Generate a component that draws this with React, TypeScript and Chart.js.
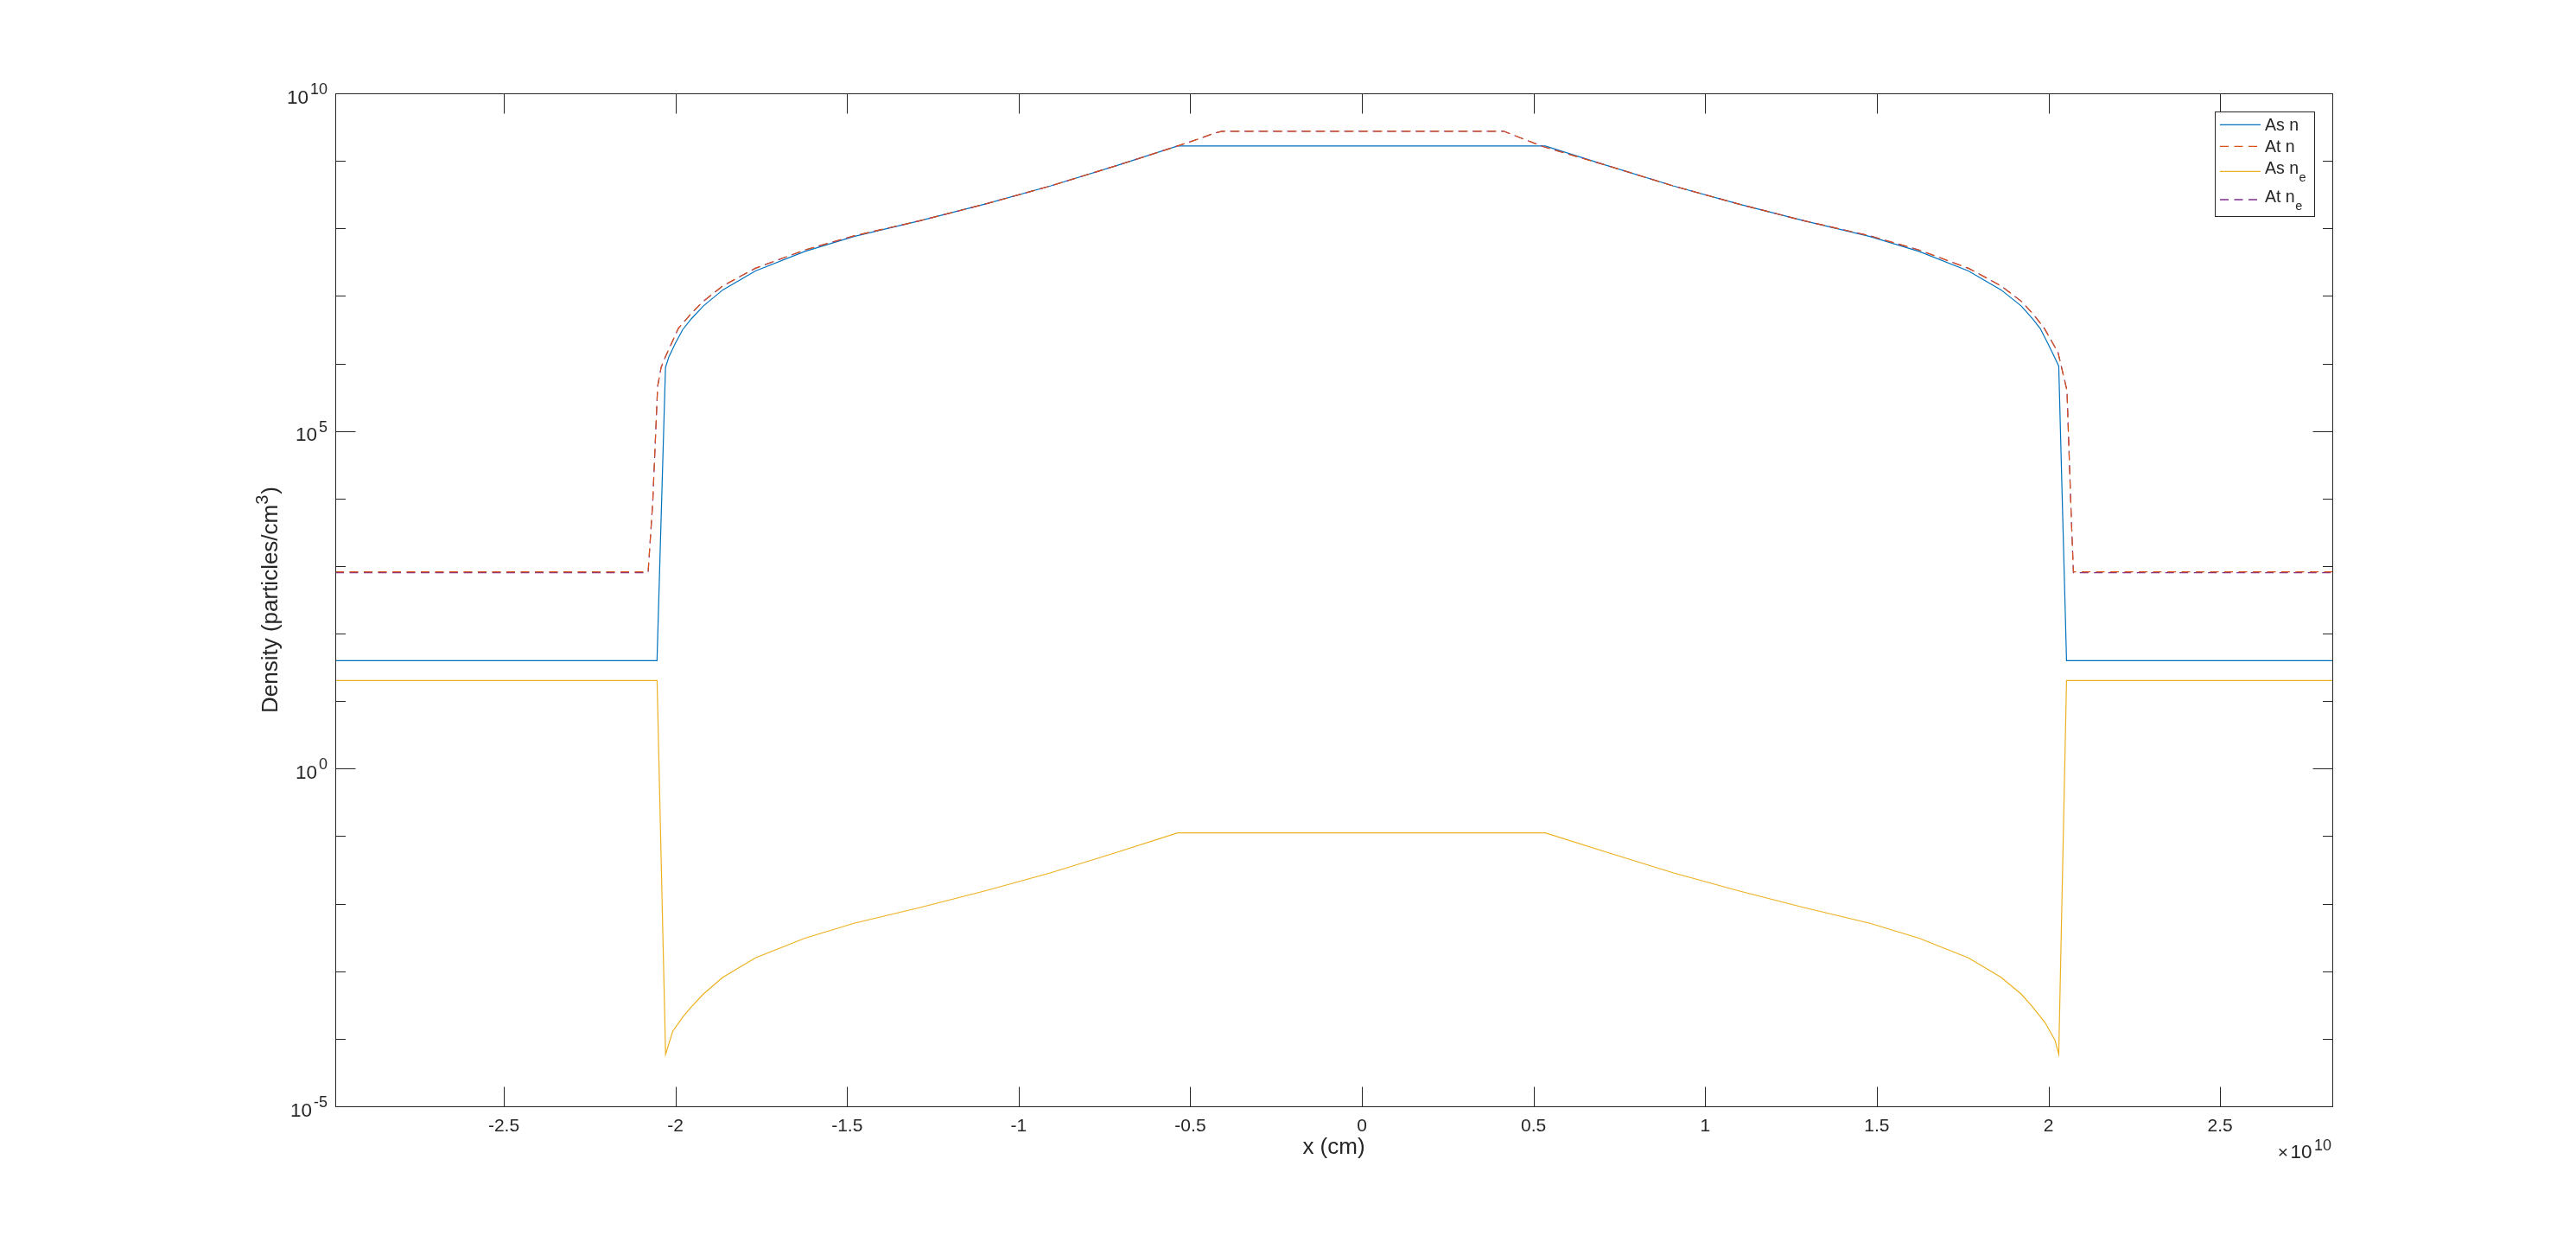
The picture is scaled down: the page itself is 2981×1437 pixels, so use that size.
import React, { useEffect, useRef } from "react";
import { Chart, registerables } from "chart.js";

Chart.register(...registerables);

// ---------- data (x in units of 1e10 cm, densities in particles/cm^3) ----------
const X_SCALE = 1e10;
const X_MIN = -2.991;
const X_MAX = 2.827;

const asNX = [
  -2.991, -2.0537, -2.029, -2.019, -2.0, -1.979, -1.954, -1.919, -1.862, -1.767, -1.623, -1.48, -1.29,
  -1.098, -0.906, -0.715, -0.537, 0.534, 0.715, 0.906, 1.098, 1.29, 1.48, 1.623, 1.767, 1.862, 1.921,
  1.954, 1.976, 2.0, 2.019, 2.03, 2.0527, 2.827,
];
const asNY = [
  39.8, 39.8, 8.71e5, 1.26e6, 2.0e6, 3.16e6, 4.57e6, 7.08e6, 1.23e7, 2.34e7, 4.57e7, 7.59e7, 1.29e8,
  2.29e8, 4.27e8, 8.51e8, 1.66e9, 1.66e9, 8.51e8, 4.27e8, 2.29e8, 1.29e8, 7.59e7, 4.57e7, 2.34e7, 1.23e7,
  7.08e6, 4.57e6, 3.3e6, 1.9e6, 1.2e6, 9.1e5, 39.8, 39.8,
];

const atNX = [
  -2.991, -2.0796, -2.066, -2.0519, -2.0418, -2.0292, -1.9914, -1.954, -1.919, -1.862, -1.767, -1.623,
  -1.48, -1.29, -1.098, -0.906, -0.715, -0.537, -0.473, -0.43, -0.408, 0.413, 0.457, 0.529, 0.715, 0.906,
  1.098, 1.29, 1.48, 1.623, 1.767, 1.862, 1.921, 1.954, 1.988, 2.028, 2.042, 2.054, 2.066, 2.0728, 2.827,
];
const atNY = [
  822, 822, 9.12e3, 4.57e5, 8.71e5, 1.26e6, 3.31e6, 5.5e6, 8.32e6, 1.41e7, 2.57e7, 4.79e7,
  7.76e7, 1.29e8, 2.29e8, 4.27e8, 8.51e8, 1.66e9, 2.14e9, 2.57e9, 2.75e9, 2.75e9, 2.24e9, 1.62e9, 8.51e8, 4.27e8,
  2.29e8, 1.29e8, 7.76e7, 4.79e7, 2.57e7, 1.41e7, 8.32e6, 5.5e6, 3.31e6, 1.45e6, 7.24e5, 3.98e5, 6.17e3, 822, 822,
];

const asNeX = [
  -2.991, -2.0535, -2.0287, -2.008, -1.979, -1.954, -1.919, -1.862, -1.767, -1.623, -1.48, -1.29, -1.098,
  -0.906, -0.715, -0.537, 0.534, 0.715, 0.906, 1.098, 1.29, 1.48, 1.623, 1.767, 1.862, 1.921, 1.954, 1.99,
  2.019, 2.03, 2.0527, 2.827,
];
const asNeY = [
  20.2, 20.2, 5.89e-5, 1.29e-4, 2.09e-4, 2.95e-4, 4.57e-4, 8.13e-4, 1.58e-3, 3.09e-3, 5.13e-3, 8.71e-3, 1.55e-2,
  2.88e-2, 5.75e-2, 0.112, 0.112, 5.75e-2, 2.88e-2, 1.55e-2, 8.71e-3, 5.13e-3, 3.09e-3, 1.58e-3, 8.13e-4, 4.57e-4,
  2.95e-4, 1.74e-4, 9.55e-5, 5.89e-5, 20.2, 20.2,
];

const atNeX = atNX;
const atNeY = [
  795, 795, 9.12e3, 4.57e5, 8.71e5, 1.26e6, 3.31e6, 5.5e6, 8.32e6, 1.41e7, 2.57e7, 4.79e7,
  7.76e7, 1.29e8, 2.29e8, 4.27e8, 8.51e8, 1.66e9, 2.14e9, 2.57e9, 2.75e9, 2.75e9, 2.24e9, 1.62e9, 8.51e8, 4.27e8,
  2.29e8, 1.29e8, 7.76e7, 4.79e7, 2.57e7, 1.41e7, 8.32e6, 5.5e6, 3.31e6, 1.45e6, 7.24e5, 3.98e5, 6.17e3, 795, 795,
];

const seriesNames = ["As n", "At n", "As n", "At n"];
const seriesSubs = ["", "", "e", "e"];
const seriesColors = ["#0072BD", "#D95319", "#EDB120", "#7E2F8E"];
const seriesDashed = [false, true, false, true];

const xTicks = [-2.5, -2, -1.5, -1, -0.5, 0, 0.5, 1, 1.5, 2, 2.5];
const xTickLabels = ["-2.5", "-2", "-1.5", "-1", "-0.5", "0", "0.5", "1", "1.5", "2", "2.5"];
const yMajorExp = [-5, 0, 5, 10];
const yMajorLabels = ["-5", "0", "5", "10"];
const yMinorExp = [-4, -3, -2, -1, 1, 2, 3, 4, 6, 7, 8, 9];

const xLabel = "x (cm)";
const yLabelMain = "Density (particles/cm";
const yLabelSup = "3";
const yLabelEnd = ")";

const FONT = "'Liberation Sans', Arial, Helvetica, sans-serif";
const AX = "#262626";
const DASH = [10, 6.5];

function pts(xs: number[], ys: number[]) {
  return xs.map((x, i) => ({ x: x * X_SCALE, y: ys[i] }));
}

const decorPlugin = {
  id: "matlabDecor",
  afterDatasetsDraw(chart: any) {
    const { ctx, chartArea: a, scales } = chart;
    const xs = scales.x;
    const ys = scales.y;
    ctx.save();
    ctx.strokeStyle = AX;
    ctx.fillStyle = AX;
    ctx.lineWidth = 1;
    ctx.setLineDash([]);

    // box
    ctx.strokeRect(a.left + 0.5, a.top + 0.5, a.right - a.left, a.bottom - a.top);

    const major = 23;
    const minor = 11.5;
    ctx.beginPath();
    xTicks.forEach((v) => {
      const px = Math.round(xs.getPixelForValue(v * X_SCALE)) + 0.5;
      ctx.moveTo(px, a.bottom + 0.5);
      ctx.lineTo(px, a.bottom + 0.5 - major);
      ctx.moveTo(px, a.top + 0.5);
      ctx.lineTo(px, a.top + 0.5 + major);
    });
    const yt = (e: number, len: number) => {
      const py = Math.round(ys.getPixelForValue(Math.pow(10, e))) + 0.5;
      ctx.moveTo(a.left + 0.5, py);
      ctx.lineTo(a.left + 0.5 + len, py);
      ctx.moveTo(a.right + 0.5, py);
      ctx.lineTo(a.right + 0.5 - len, py);
    };
    yMajorExp.forEach((e) => yt(e, major));
    yMinorExp.forEach((e) => yt(e, minor));
    ctx.stroke();

    // x tick labels
    ctx.font = `21px ${FONT}`;
    ctx.textAlign = "center";
    ctx.textBaseline = "alphabetic";
    xTicks.forEach((v, i) => {
      const px = xs.getPixelForValue(v * X_SCALE);
      ctx.fillText(xTickLabels[i], px, a.bottom + 29);
    });

    // y tick labels 10^e
    yMajorExp.forEach((e, i) => {
      const py = ys.getPixelForValue(Math.pow(10, e));
      const right = a.left - 9;
      ctx.font = `18px ${FONT}`;
      ctx.textAlign = "right";
      const sw = ctx.measureText(yMajorLabels[i]).width;
      ctx.fillText(yMajorLabels[i], right, py + 1);
      ctx.font = `22.5px ${FONT}`;
      ctx.fillText("10", right - sw - 2, py + 11.5);
    });

    // x exponent label  x10^10
    {
      const right = a.right - 1;
      ctx.textAlign = "right";
      ctx.font = `18px ${FONT}`;
      const sw = ctx.measureText("10").width;
      ctx.fillText("10", right, a.bottom + 50.5);
      ctx.font = `22.5px ${FONT}`;
      const mw = ctx.measureText("10").width;
      ctx.fillText("10", right - sw - 2.5, a.bottom + 60);
      ctx.font = `21px ${FONT}`;
      ctx.fillText("\u00D7", right - sw - 2.5 - mw - 2.5, a.bottom + 60);
    }

    // x label
    ctx.font = `26px ${FONT}`;
    ctx.textAlign = "center";
    ctx.fillText(xLabel, (a.left + a.right) / 2, a.bottom + 55);

    // y label (rotated)
    {
      ctx.save();
      ctx.translate(321, (a.top + a.bottom) / 2);
      ctx.rotate(-Math.PI / 2);
      ctx.textAlign = "left";
      ctx.font = `26px ${FONT}`;
      const w1 = ctx.measureText(yLabelMain).width;
      const w3 = ctx.measureText(yLabelEnd).width;
      ctx.font = `20px ${FONT}`;
      const w2 = ctx.measureText(yLabelSup).width;
      const total = w1 + w2 + w3 + 1;
      let x0 = -total / 2;
      ctx.font = `26px ${FONT}`;
      ctx.fillText(yLabelMain, x0, 0);
      x0 += w1;
      ctx.font = `20px ${FONT}`;
      ctx.fillText(yLabelSup, x0, -11);
      x0 += w2 + 1;
      ctx.font = `26px ${FONT}`;
      ctx.fillText(yLabelEnd, x0, 0);
      ctx.restore();
    }

    // legend
    {
      const bx = 2563.5, by = 129.5, bw = 115, bh = 121;
      ctx.fillStyle = "#ffffff";
      ctx.fillRect(bx, by, bw, bh);
      ctx.strokeStyle = AX;
      ctx.lineWidth = 1;
      ctx.strokeRect(bx, by, bw, bh);
      const lineY = [144.3, 169.3, 198.3, 231];
      const baseY = [150.7, 175.7, 201, 234];
      seriesNames.forEach((name, i) => {
        ctx.beginPath();
        ctx.strokeStyle = seriesColors[i];
        ctx.lineWidth = 1.3;
        ctx.setLineDash(seriesDashed[i] ? DASH : []);
        ctx.moveTo(2569, lineY[i]);
        ctx.lineTo(2616, lineY[i]);
        ctx.stroke();
        ctx.setLineDash([]);
        ctx.fillStyle = AX;
        ctx.textAlign = "left";
        ctx.font = `19.5px ${FONT}`;
        ctx.fillText(name, 2621, baseY[i]);
        if (seriesSubs[i]) {
          const w = ctx.measureText(name).width;
          ctx.font = `14.5px ${FONT}`;
          ctx.fillText(seriesSubs[i], 2621 + w + 0.5, baseY[i] + 8.5);
        }
      });
    }
    ctx.restore();
  },
};

export default function App() {
  const ref = useRef<HTMLCanvasElement | null>(null);

  useEffect(() => {
    document.body.style.margin = "0";
    document.body.style.overflow = "hidden";
    const canvas = ref.current;
    if (!canvas) return;
    const mk = (i: number, xs: number[], ys: number[], order: number) => ({
      label: seriesNames[i] + seriesSubs[i],
      data: pts(xs, ys),
      borderColor: seriesColors[i],
      backgroundColor: seriesColors[i],
      borderWidth: 1.2,
      borderDash: seriesDashed[i] ? DASH : [],
      pointRadius: 0,
      fill: false,
      tension: 0,
      order,
    });
    const chart = new Chart(canvas, {
      type: "line",
      data: {
        datasets: [
          mk(0, asNX, asNY, 4),
          mk(1, atNX, atNY, 2),
          mk(2, asNeX, asNeY, 1),
          mk(3, atNeX, atNeY, 3),
        ],
      },
      options: {
        responsive: false,
        animation: false,
        devicePixelRatio: 1,
        layout: { padding: { left: 388, top: 108, right: 282, bottom: 157 } },
        plugins: { legend: { display: false }, tooltip: { enabled: false } },
        scales: {
          x: { type: "linear", min: X_MIN * X_SCALE, max: X_MAX * X_SCALE, display: false },
          y: { type: "logarithmic", min: 1e-5, max: 1e10, display: false },
        },
        elements: { point: { radius: 0 }, line: { tension: 0 } },
      },
      plugins: [decorPlugin],
    } as any);
    return () => chart.destroy();
  }, []);

  return (
    <div style={{ width: 2981, height: 1437, background: "#ffffff" }}>
      <canvas ref={ref} width={2981} height={1437} style={{ display: "block" }} />
    </div>
  );
}
